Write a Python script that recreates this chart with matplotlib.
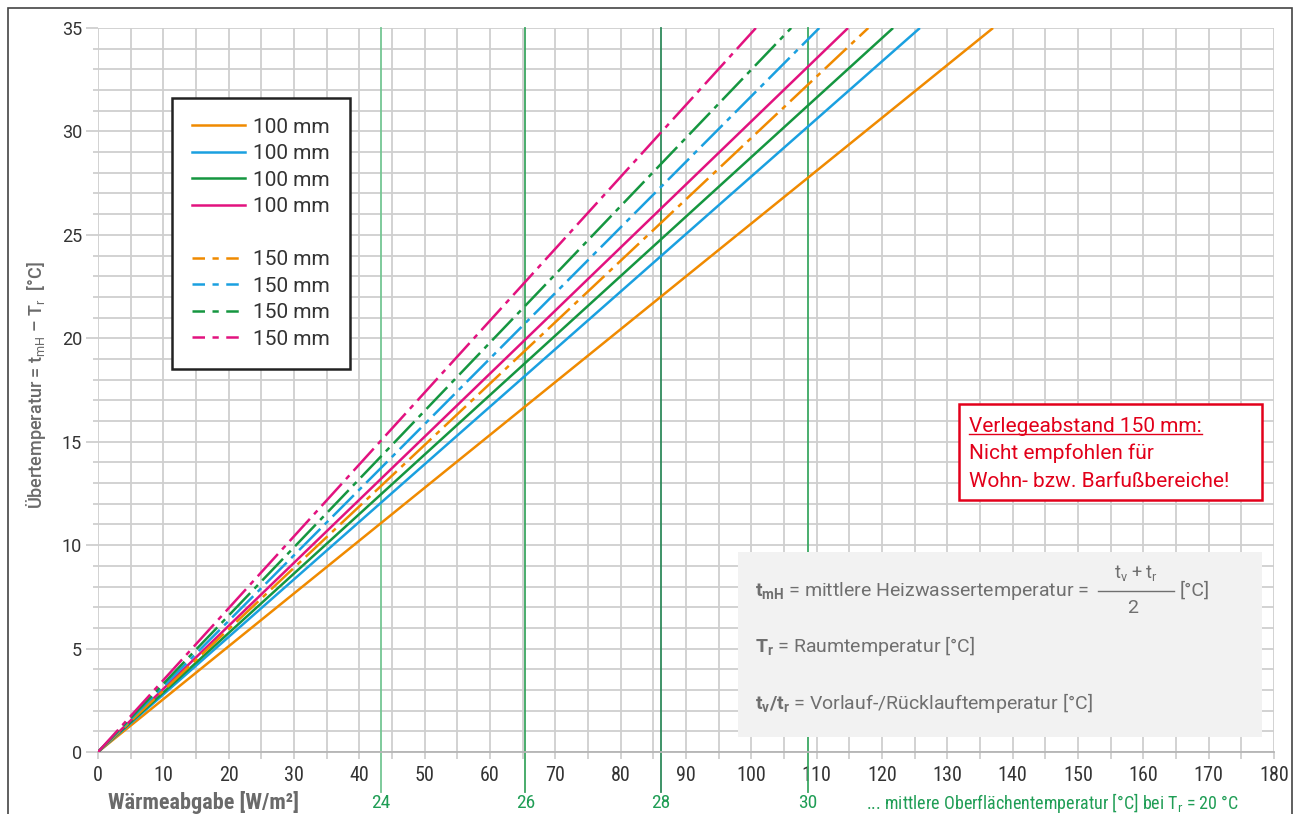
import matplotlib.pyplot as plt
from matplotlib.lines import Line2D
from matplotlib.patches import Rectangle

plt.rcParams['font.family'] = ['Roboto Condensed', 'Roboto', 'DejaVu Sans']
plt.rcParams['mathtext.fontset'] = 'custom'
plt.rcParams['mathtext.rm'] = 'Roboto'
plt.rcParams['mathtext.bf'] = 'Roboto:bold'
plt.rcParams['mathtext.it'] = 'Roboto:italic'

# Waermeabgabe [W/m2] at which each curve reaches 35 K
delta_t = [0, 35]
q_end_100 = [137.0, 125.8, 121.7, 114.8]
q_end_150 = [117.9, 110.4, 106.1, 100.7]
line_colors = ['#f08a00', '#1aa0e0', '#159640', '#e2127f']
label_100 = ['100 mm'] * 4
label_150 = ['150 mm'] * 4

# mittlere Oberflaechentemperatur markers
surf_temps = [24, 26, 28, 30]
surf_q = [43.3, 65.4, 86.2, 108.7]
surf_colors = ['#74c693', '#3aa660', '#2f8a5c', '#3aa862']

x_ticks = list(range(0, 181, 10))
y_ticks = list(range(0, 36, 5))

W, H = 1301, 814
def fx(x):
	return x / W
def fy(y):
	return 1 - y / H

fig = plt.figure(figsize=(13.01, 8.14), dpi=100)
ax = fig.add_axes([fx(98), fy(752), (1274 - 98) / W, (752 - 28) / H])

ax.set_xlim(0, 180)
ax.set_ylim(0, 35)
ax.set_xticks(x_ticks)
ax.set_xticks(range(0, 181, 5), minor=True)
ax.set_yticks(y_ticks)
ax.set_yticks(range(0, 36, 1), minor=True)
ax.grid(True, which='both', color='#cfcfcf', lw=1.3)
ax.set_axisbelow(True)
for s in ['top', 'right', 'left']:
	ax.spines[s].set_visible(False)
ax.spines['bottom'].set_color('#b5b5b5')
ax.spines['bottom'].set_linewidth(1.3)
ax.tick_params(axis='x', which='both', length=5, width=1.3, color='#cfcfcf',
	labelsize=14.5, labelcolor='#333333', pad=5)
ax.tick_params(axis='y', which='major', length=8.5, width=1.3, color='#cfcfcf',
	labelsize=13, labelcolor='#333333', pad=3)
ax.tick_params(axis='y', which='minor', length=3.5, width=1.3, color='#cfcfcf')
for t in ax.get_yticklabels():
	t.set_family('Roboto')

dash = (12, 2.5, 2, 2.5)
for q, c in zip(q_end_100, line_colors):
	ax.plot([0, q], delta_t, color=c, lw=1.8, solid_capstyle='butt', zorder=3)
for q, c in zip(q_end_150, line_colors):
	ax.plot([0, q], delta_t, color=c, lw=1.8, dashes=dash, zorder=3)

# green surface temperature lines
xt = ax.get_xaxis_transform()
for q, t, c in zip(surf_q, surf_temps, surf_colors):
	ax.plot([q, q], [-40 / 724, 1], color=c, lw=1.3, transform=xt, clip_on=False, zorder=2)
	ax.text(q, -51 / 724, str(t), transform=xt, ha='center', va='center',
		fontsize=14, color='#1f9d55')
fig.text(fx(866), fy(803), '... mittlere Oberflächentemperatur [°C] bei T$_\\mathrm{r}$ = 20 °C',
	ha='left', va='center', fontsize=13, color='#1f9d55')

# legend
handles = [Line2D([], [], color=c, lw=1.8) for c in line_colors]
handles.append(Line2D([], [], color='none'))
handles += [Line2D([], [], color=c, lw=1.8, dashes=(5, 3, 2.5, 3)) for c in line_colors]
labels = label_100 + [' '] + label_150
leg = ax.legend(handles, labels, loc='upper left', bbox_to_anchor=(fx(172), fy(98)),
	bbox_transform=fig.transFigure, borderaxespad=0, fancybox=False, framealpha=1,
	edgecolor='#222222', prop={'family': 'Roboto', 'size': 15}, labelspacing=0.36,
	handlelength=2.55, handletextpad=0.4, borderpad=0.95)
leg.get_frame().set_linewidth(1.8)
for t in leg.get_texts():
	t.set_color('#333333')

# axis labels
fig.text(fx(36), fy(385), 'Übertemperatur = t$_{\\mathrm{mH}}$ – T$_\\mathrm{r}$  [°C]',
	rotation=90, ha='center', va='center', fontsize=13, color='#6a6a6a',
	family='Roboto', weight='medium')
fig.text(fx(108), fy(803), 'Wärmeabgabe [W/m²]', ha='left', va='center',
	fontsize=16, color='#6a6a6a', weight='bold')

# red note box
red = '#e2001a'
fig.patches.append(Rectangle((fx(959), fy(500)), (1262 - 959) / W, (500 - 404) / H,
	transform=fig.transFigure, fc='white', ec=red, lw=1.8))
red_kw = dict(ha='left', va='center', fontsize=15, color=red, family='Roboto')
t1 = fig.text(fx(969), fy(426), 'Verlegeabstand 150 mm:', **red_kw)
fig.text(fx(969), fy(453), 'Nicht empfohlen für', **red_kw)
fig.text(fx(969), fy(482), 'Wohn- bzw. Barfußbereiche!', **red_kw)

# grey explanation box
grey = '#6f6f6f'
gkw = dict(va='center', fontsize=14, color=grey, family='Roboto')
fig.patches.append(Rectangle((fx(738), fy(737)), (1262 - 738) / W, (737 - 552) / H,
	transform=fig.transFigure, fc='#f2f2f2', ec='none'))
fig.text(fx(755), fy(591), '$\\mathbf{t_{mH}}$ = mittlere Heizwassertemperatur =',
	ha='left', **gkw)
fig.text(fx(1136), fy(573), 't$_\\mathrm{v}$ + t$_\\mathrm{r}$', ha='center', va='center',
	fontsize=13, color=grey, family='Roboto')
fig.lines.append(Line2D([fx(1098), fx(1174)], [fy(591), fy(591)], transform=fig.transFigure,
	color=grey, lw=1))
fig.text(fx(1133), fy(608), '2', ha='center', **gkw)
fig.text(fx(1180), fy(591), '[°C]', ha='left', **gkw)
fig.text(fx(755), fy(646), '$\\mathbf{T_r}$ = Raumtemperatur [°C]', ha='left', **gkw)
fig.text(fx(755), fy(703), '$\\mathbf{t_v/t_r}$ = Vorlauf-/Rücklauftemperatur [°C]',
	ha='left', **gkw)

# outer frame
fig.patches.append(Rectangle((fx(8), -0.02), (1292 - 8) / W, fy(8) + 0.02,
	transform=fig.transFigure, fill=False, ec='#444444', lw=1.2))

# underline of the first red line
fig.canvas.draw()
bb = t1.get_window_extent().transformed(fig.transFigure.inverted())
fig.lines.append(Line2D([bb.x0, bb.x1], [bb.y0 + 0.002, bb.y0 + 0.002],
	transform=fig.transFigure, color=red, lw=1))

fig.savefig('out.png', dpi=100)
